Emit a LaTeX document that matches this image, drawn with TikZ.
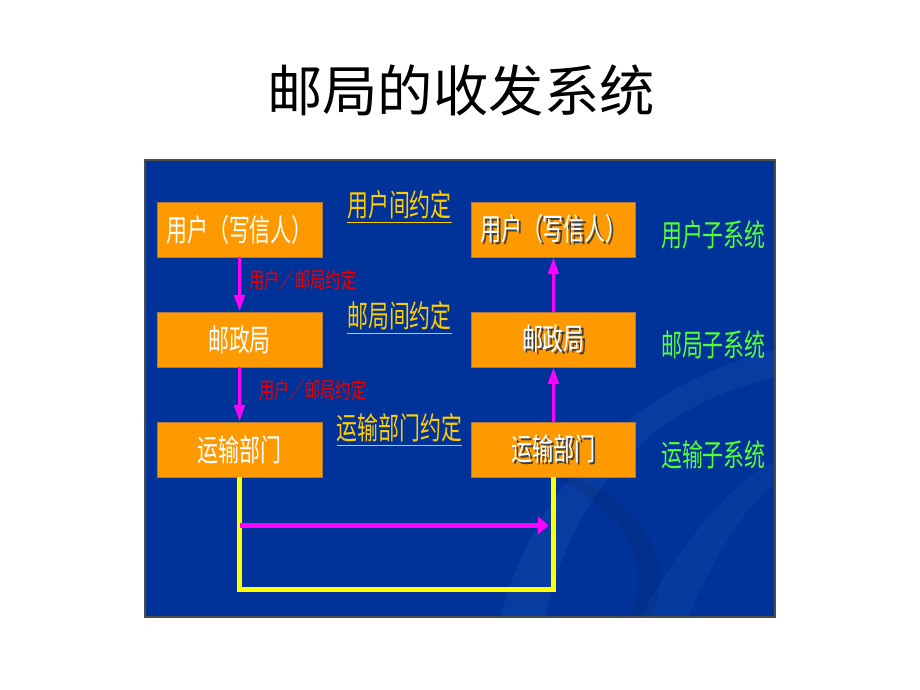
\documentclass[tikz,border=0pt]{standalone}
\usepackage{fontspec}
\newfontfamily\cjk[FakeStretch=0.68]{Noto Sans CJK SC}
\newfontfamily\cjktitle{Noto Sans CJK SC}
\usepackage{tikz}
\usetikzlibrary{positioning}
\usetikzlibrary{arrows.meta}

\definecolor{panelblue}{HTML}{003399}
\definecolor{swooshblue}{HTML}{1A4DB0}
\definecolor{boxorange}{HTML}{FF9900}
\definecolor{boxedge}{HTML}{B07A3C}
\definecolor{dealyellow}{HTML}{FFCC00}
\definecolor{wireyellow}{HTML}{FFFF00}
\definecolor{flowpink}{HTML}{FF00FF}
\definecolor{notered}{HTML}{E80000}
\definecolor{subgreen}{HTML}{55FF33}

\newcommand{\shadowed}[1]{\makebox[0pt][l]{\kern1.2pt\raisebox{-1.2pt}{\textcolor{black!75}{#1}}}#1}

\begin{document}
\begin{tikzpicture}[
            x = 0.02cm, y = -0.02cm, % one unit per pixel
            > = {Triangle[length=9.5pt,width=6pt]}, % arrow head style
            node distance = 2.2cm, % distance between nodes
        ]

        \tikzstyle{unit}=[
            fill = boxorange,
            draw = boxedge,
            line width = 0.5pt,
            minimum width = 3.3cm,
            minimum height = 1.1cm,
            inner sep = 0pt,
            text = white,
            font = \cjk\fontsize{17.5}{20}\selectfont
        ]
        \tikzstyle{deal}=[text = dealyellow, inner sep = 0pt, font = \cjk\fontsize{17.5}{20}\selectfont]
        \tikzstyle{note}=[text = notered, inner sep = 0pt, font = \cjk\fontsize{12.8}{15}\selectfont]
        \tikzstyle{sub}=[text = subgreen, inner sep = 0pt, font = \cjk\fontsize{17.5}{20}\selectfont]
        \tikzstyle{flow}=[draw = flowpink, line width = 2pt]
        \tikzstyle{wire}=[draw = wireyellow, line width = 2.4pt]

        \useasboundingbox (0,0) rectangle (920,690);

	% title
        \node[font = \cjktitle\fontsize{31.5}{36}\selectfont] (title) at (461,90) {邮局的收发系统};

	% background panel
        \fill[panelblue] (145,160) rectangle (775,617);
        \begin{scope}
            \clip (145,160) rectangle (775,617);
            \fill[swooshblue, opacity = 0.35] (500,617) .. controls (540,470) and (650,380) .. (775,350)
                -- (775,378) .. controls (665,400) and (575,480) .. (545,617) -- cycle;
            \fill[swooshblue, opacity = 0.3] (640,617) .. controls (690,530) and (735,480) .. (775,462)
                -- (775,484) .. controls (745,505) and (712,560) .. (688,617) -- cycle;
            \fill[black, opacity = 0.08] (560,470) .. controls (640,500) and (680,560) .. (650,617)
                -- (630,617) .. controls (655,560) and (620,510) .. (560,480) -- cycle;
        \end{scope}
        \draw[black!70, line width = 0.6pt] (145,160) rectangle (775,617);

	% sending side
        \node[unit] (UL) at (239.5,229.5) {用户（写信人）};
        \node[unit] (PL) [below of = UL] {邮政局};
        \node[unit] (TL) [below of = PL] {运输部门};

        \path[flow,->] (UL) edge node {} (PL);
        \path[flow,->] (PL) edge node {} (TL);

	% receiving side
        \node[unit] (UR) [right of = UL, node distance = 6.28cm] {\shadowed{用户（写信人）}};
        \node[unit] (PR) [below of = UR] {\shadowed{邮政局}};
        \node[unit] (TR) [below of = PR] {\shadowed{运输部门}};

        \path[flow,->] (TR) edge node {} (PR);
        \path[flow,->] (PR) edge node {} (UR);

	% transport link
        \draw[wire] (TL.south) -- ++(0,112) -| (TR.south);
        \path (TL.south) ++(0,48) coordinate (hs);
        \draw[flow, line width = 2.8pt, -{Triangle[length=6pt,width=10pt]}, shorten > = 0.1cm] (hs) -- (hs -| TR.south);

	% agreements
        \node[deal] (dU) at (399.5,207) {\underline{用户间约定}};
        \node[deal] (dP) at (399.5,318) {\underline{邮局间约定}};
        \node[deal] (dT) at (399.5,430) {\underline{运输部门约定}};

        \node[note, anchor = west] (nU) at (249,280) {用户／邮局约定};
        \node[note, anchor = west] (nP) at (259,390) {用户／邮局约定};

	% subsystems
        \node[sub] (sU) [right of = UR, node distance = 3.2cm, yshift = -0.1cm] {用户子系统};
        \node[sub] (sP) [right of = PR, node distance = 3.2cm, yshift = -0.1cm] {邮局子系统};
        \node[sub] (sT) [right of = TR, node distance = 3.2cm, yshift = -0.1cm] {运输子系统};

\end{tikzpicture}
\end{document}
